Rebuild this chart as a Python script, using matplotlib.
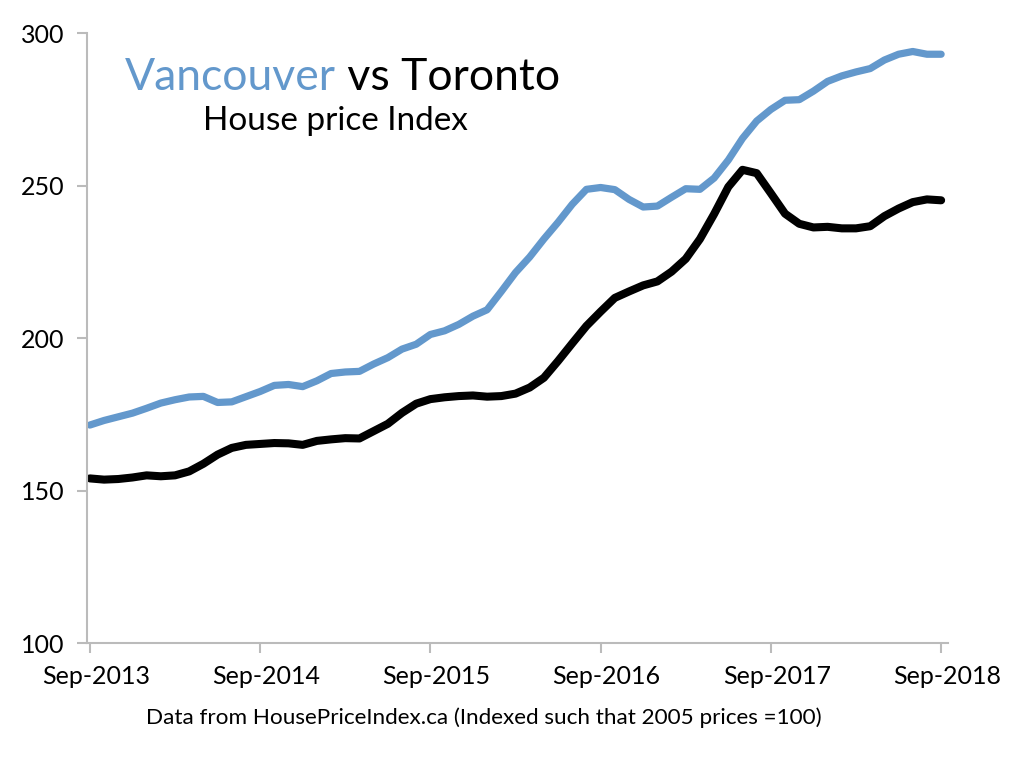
import matplotlib
matplotlib.use('Agg')
import matplotlib.pyplot as plt
from matplotlib.transforms import ScaledTranslation

# monthly index values, Sep-2013 .. Sep-2018
vancouver = [171.5, 173.0, 174.2, 175.4, 177.0, 178.7, 179.8, 180.7, 180.9, 178.9,
             179.1, 180.8, 182.5, 184.5, 184.8, 184.1, 186.0, 188.4, 188.9, 189.1,
             191.5, 193.6, 196.4, 198.0, 201.2, 202.4, 204.5, 207.2, 209.3, 215.3,
             221.5, 226.6, 232.5, 238.0, 243.9, 248.8, 249.4, 248.7, 245.5, 243.0,
             243.3, 246.2, 249.0, 248.8, 252.5, 258.4, 265.5, 271.2, 275.0, 278.0,
             278.2, 281.0, 284.2, 286.0, 287.3, 288.4, 291.2, 293.1, 294.0, 293.1,
             293.1]
toronto = [154.0, 153.6, 153.8, 154.3, 155.0, 154.7, 155.0, 156.3, 158.8, 161.8,
           164.0, 165.0, 165.3, 165.6, 165.5, 165.0, 166.3, 166.8, 167.2, 167.1,
           169.5, 171.9, 175.5, 178.5, 180.0, 180.6, 181.0, 181.2, 180.8, 181.0,
           181.8, 183.8, 187.0, 192.5, 198.3, 204.0, 208.7, 213.2, 215.3, 217.3,
           218.6, 221.8, 226.0, 232.5, 240.7, 249.6, 255.2, 254.1, 247.5, 240.8,
           237.5, 236.3, 236.5, 236.0, 236.0, 236.7, 240.0, 242.5, 244.6, 245.5,
           245.2]
tick_labels = ['Sep-2013', 'Sep-2014', 'Sep-2015', 'Sep-2016', 'Sep-2017', 'Sep-2018']
y_ticks = [100, 150, 200, 250, 300]

plt.rcParams['font.family'] = ['Lato', 'DejaVu Sans']

fig = plt.figure(figsize=(10.24, 7.72), dpi=100)
ax = fig.add_axes([0.085, 0.167, 0.841, 0.790])

x = list(range(len(vancouver)))
ax.plot(x, vancouver, color='#6398CC', lw=5.2, solid_capstyle='round', solid_joinstyle='round')
ax.plot(x, toronto, color='black', lw=5.8, solid_capstyle='round', solid_joinstyle='round')

ax.set_xlim(-0.2, 60.5)
ax.set_ylim(100, 300)
ax.set_yticks(y_ticks)
ax.set_xticks(x[::12])
ax.set_xticklabels(tick_labels)

for s in ['top', 'right']:
    ax.spines[s].set_visible(False)
for s in ['left', 'bottom']:
    ax.spines[s].set_color('#BBBBBB')
    ax.spines[s].set_linewidth(1.5)
ax.tick_params(axis='both', colors='#BBBBBB', labelcolor='black', length=7, width=1.5,
               labelsize=18)
ax.tick_params(axis='y', pad=9)
ax.tick_params(axis='x', pad=9)

shift = ScaledTranslation(6 / 100, 0, fig.dpi_scale_trans)
for lbl in ax.get_xticklabels():
    lbl.set_transform(lbl.get_transform() + shift)

# title: two colours on one line
t1 = fig.text(0.122, 0.883, 'Vancouver', color='#6398CC', fontsize=32, va='baseline')
ax.annotate(' vs Toronto', xy=(1, 0), xycoords=t1, va='bottom', fontsize=32, color='black')
fig.text(0.198, 0.832, 'House price Index', fontsize=24, va='baseline')

fig.text(0.472, 0.062, 'Data from HousePriceIndex.ca (Indexed such that 2005 prices =100)',
         fontsize=16.2, ha='center', va='baseline')

fig.savefig('out.png', dpi=100)
